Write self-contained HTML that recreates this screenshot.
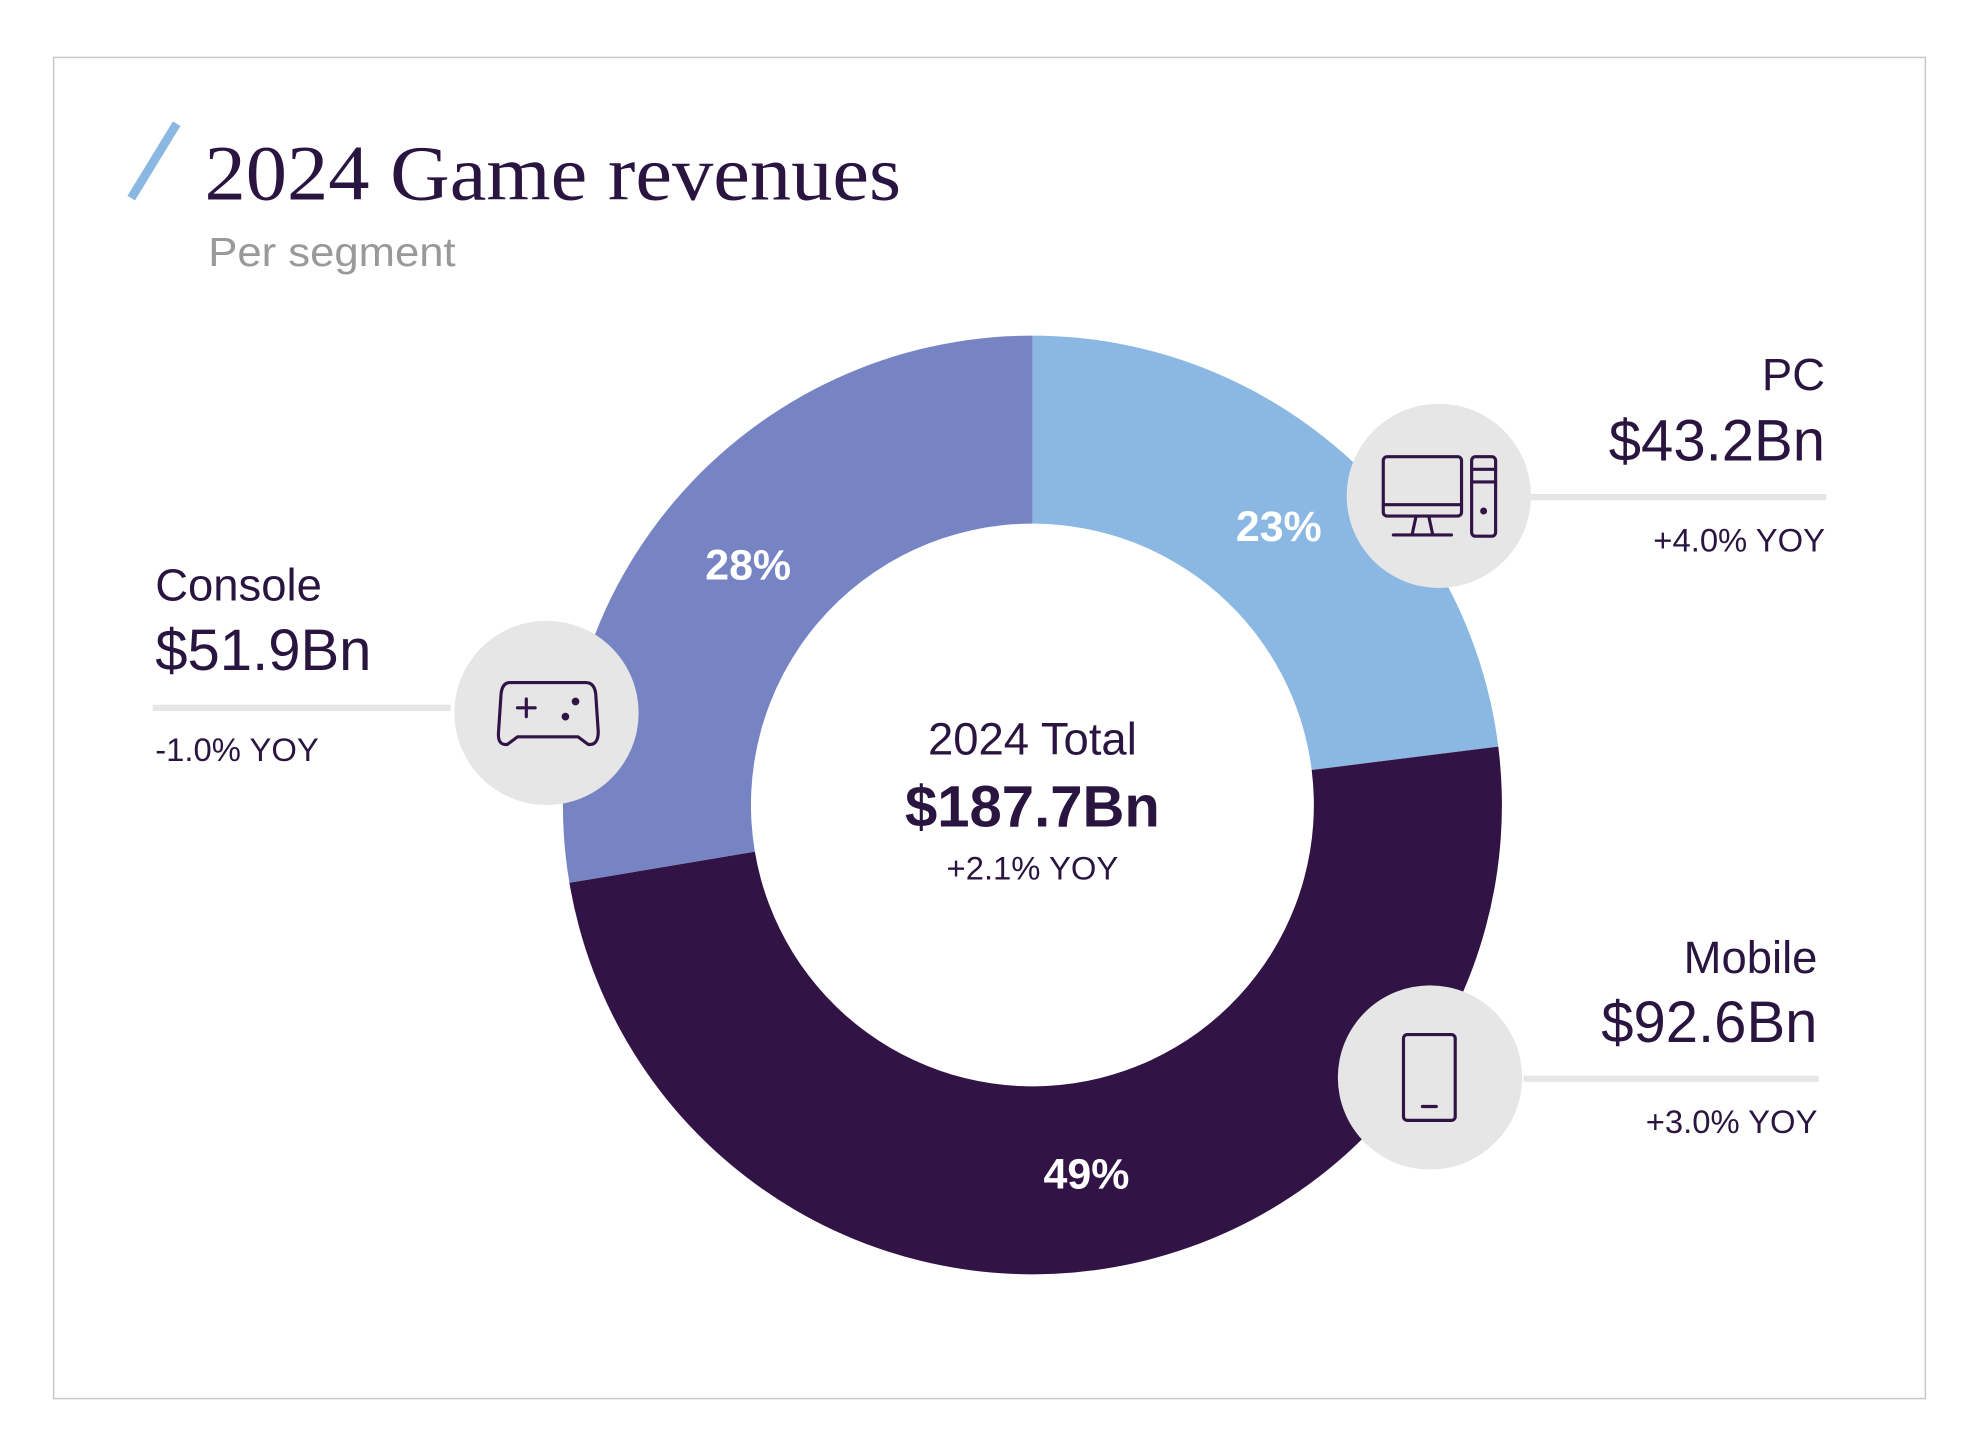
<!DOCTYPE html>
<html><head><meta charset="utf-8"><style>
html,body{margin:0;padding:0;background:#fff;}
svg{display:block;}
text{font-family:"Liberation Sans",sans-serif;fill:#2a1540;}
</style></head><body>
<svg width="1979" height="1456" viewBox="0 0 1568 1154" preserveAspectRatio="none">
<rect x="42.5" y="45.5" width="1483" height="1063" fill="#fff" stroke="#c8c8c8" stroke-width="1.2"/>
<line x1="104" y1="157" x2="140" y2="98" stroke="#8ab8e2" stroke-width="7"/>
<text x="162" y="158" textLength="552" lengthAdjust="spacingAndGlyphs" style="font-family:'Liberation Serif',serif;font-size:62px">2024 Game revenues</text>
<text x="165" y="211" textLength="196" lengthAdjust="spacingAndGlyphs" style="font-size:32px;fill:#999">Per segment</text>
<g id="donut"></g>
<g id="overlay"></g>
<text x="818" y="598" text-anchor="middle" style="font-size:36px">2024 Total</text>
<text x="818" y="655" text-anchor="middle" style="font-size:46px;font-weight:bold">$187.7Bn</text>
<text x="818" y="697" text-anchor="middle" style="font-size:26px">+2.1% YOY</text>
</svg>
<script>
const segments = ["PC","Mobile","Console"];
const revenues = [43.2, 92.6, 51.9];
const yoyLabels = ["+4.0% YOY","+3.0% YOY","-1.0% YOY"];
const pctLabels = ["23%","49%","28%"];
const colors = ["#8ab8e2","#311445","#7784c4"];
const NS="http://www.w3.org/2000/svg";
const cx=818, cy=638, R=372, r=223;
const g=document.getElementById('donut');
const ov=document.getElementById('overlay');
const total=revenues.reduce((a,b)=>a+b,0);
function pt(a,rad){return [cx+rad*Math.sin(a), cy-rad*Math.cos(a)];}
function mk(tag,attrs,parent){const e=document.createElementNS(NS,tag);for(const k in attrs)e.setAttribute(k,attrs[k]);parent.appendChild(e);return e;}
let acc=0;
revenues.forEach((v,i)=>{
  const a0=acc/total*2*Math.PI; acc+=v; const a1=acc/total*2*Math.PI;
  const lg=(a1-a0)>Math.PI?1:0;
  const [x0,y0]=pt(a0,R),[x1,y1]=pt(a1,R),[x2,y2]=pt(a1,r),[x3,y3]=pt(a0,r);
  const p=mk('path',{d:`M${x0},${y0}A${R},${R} 0 ${lg} 1 ${x1},${y1}L${x2},${y2}A${r},${r} 0 ${lg} 0 ${x3},${y3}Z`,fill:colors[i]},g);
  
  
  const am=(a0+a1)/2; const [lx,ly]=pt(am,295);
  const t=mk('text',{x:lx,y:ly+12,'text-anchor':'middle',style:'font-size:34px;font-weight:bold;fill:#fff'},g);
  t.textContent=pctLabels[i];
  
  
});
const callouts=[
 {i:0,cx:1140,cy:393,lx1:1213,lx2:1447,ly:394,tx:1446,anchor:'end',y1:309,y2:365,y3:437},
 {i:1,cx:1133,cy:854,lx1:1207,lx2:1441,ly:855,tx:1440,anchor:'end',y1:771,y2:826,y3:898},
 {i:2,cx:433,cy:565,lx1:121,lx2:357,ly:561,tx:123,anchor:'start',y1:476,y2:531,y3:603}
];
callouts.forEach(c=>{
  const n=segments[c.i].toLowerCase();
  const l=mk('line',{x1:c.lx1,x2:c.lx2,y1:c.ly,y2:c.ly,stroke:'#e6e6e6','stroke-width':5},ov);
  
  
  const ci=mk('circle',{cx:c.cx,cy:c.cy,r:73,fill:'#e6e6e6'},ov);
  
  
  const t1=mk('text',{x:c.tx,y:c.y1,'text-anchor':c.anchor,style:'font-size:36px'},ov);t1.textContent=segments[c.i];
  
  
  const t2=mk('text',{x:c.tx,y:c.y2,'text-anchor':c.anchor,style:'font-size:46px'},ov);t2.textContent='$'+revenues[c.i].toFixed(1)+'Bn';
  
  
  const t3=mk('text',{x:c.tx,y:c.y3,'text-anchor':c.anchor,style:'font-size:26px'},ov);t3.textContent=yoyLabels[c.i];
  
  
});
const st='fill="none" stroke="#311445" stroke-width="2.5" stroke-linejoin="round" stroke-linecap="round"';
ov.insertAdjacentHTML('beforeend',
`<g ${st}>
<rect x="1096" y="362" width="62" height="47" rx="3"/><line x1="1096" y1="400" x2="1158" y2="400"/>
<path d="M1122 409 L1119 423 M1132 409 L1135 423 M1104 424 L1150 424"/>
<rect x="1166" y="362" width="19" height="63" rx="3"/><line x1="1166" y1="372" x2="1185" y2="372"/><line x1="1166" y1="382" x2="1185" y2="382"/>
<circle cx="1175.5" cy="405" r="1.5" fill="#311445"/></g>
<g ${st}>
<path d="M404 541 H464 Q471 541 472 550 L474 580 Q474 591 466 590 L458 584 H410 L402 590 Q394 591 395 580 L397 550 Q398 541 404 541 Z"/>
<path d="M410 561 H424 M417 554 V568"/><circle cx="456" cy="556" r="1.8" fill="#311445"/><circle cx="448" cy="568" r="1.8" fill="#311445"/></g>
<g ${st}>
<rect x="1112" y="820" width="41" height="68" rx="3"/><line x1="1127" y1="877" x2="1138" y2="877"/></g>`);
</script>
</body></html>
